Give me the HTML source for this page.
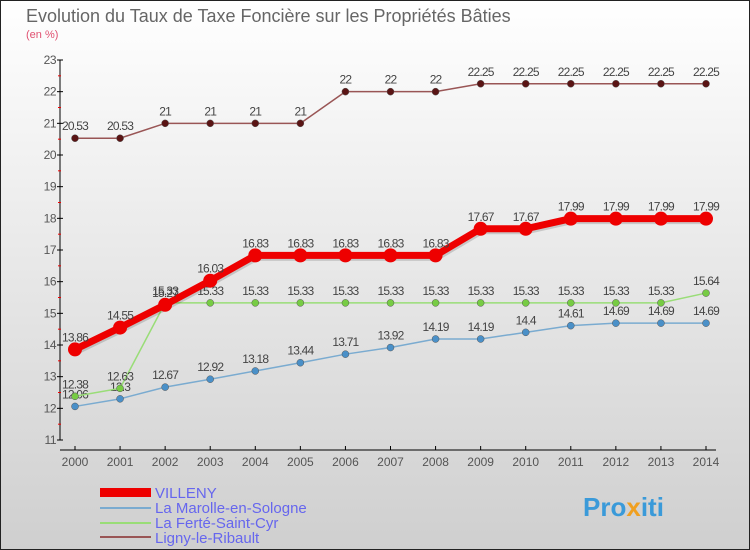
<!DOCTYPE html>
<html><head><meta charset="utf-8"><style>
body{margin:0;width:750px;height:550px;overflow:hidden;font-family:"Liberation Sans",sans-serif}
svg{display:block}
</style></head><body>
<svg id="c" width="750" height="550" xmlns="http://www.w3.org/2000/svg">
<defs><linearGradient id="bg" x1="0" y1="0" x2="0" y2="1"><stop offset="0" stop-color="#ffffff"/><stop offset="1" stop-color="#cfcfcf"/></linearGradient></defs>
<rect x="0.5" y="0.5" width="749" height="549" fill="url(#bg)" stroke="#222"/>
<text x="26" y="22" font-size="18" fill="#666">Evolution du Taux de Taxe Foncière sur les Propriétés Bâties</text>
<text x="26" y="38" font-size="11" fill="#e05070">(en %)</text>
<g id="axes"></g><g id="series"></g>
<g>
<rect x="100" y="488" width="51" height="9" fill="#e00"/>
<text x="155" y="498" font-size="15" fill="#6666ee">VILLENY</text>
<line x1="100" y1="508" x2="151" y2="508" stroke="#7aabd0" stroke-width="2"/>
<text x="155" y="513" font-size="15" fill="#6666ee">La Marolle-en-Sologne</text>
<line x1="100" y1="523" x2="151" y2="523" stroke="#99dd77" stroke-width="2"/>
<text x="155" y="528" font-size="15" fill="#6666ee">La Ferté-Saint-Cyr</text>
<line x1="100" y1="537" x2="151" y2="537" stroke="#995555" stroke-width="2"/>
<text x="155" y="543" font-size="15" fill="#6666ee">Ligny-le-Ribault</text>
</g>
<text x="583" y="516" font-size="26" font-weight="bold" fill="#3a9ad9">Pro<tspan fill="#f0a020">x</tspan>iti</text>
</svg>
<script>
const years=[2000,2001,2002,2003,2004,2005,2006,2007,2008,2009,2010,2011,2012,2013,2014];
const yTicks=[11,12,13,14,15,16,17,18,19,20,21,22,23];
const villeny=[13.86,14.55,15.27,16.03,16.83,16.83,16.83,16.83,16.83,17.67,17.67,17.99,17.99,17.99,17.99];
const marolle=[12.06,12.3,12.67,12.92,13.18,13.44,13.71,13.92,14.19,14.19,14.4,14.61,14.69,14.69,14.69];
const ferte=[12.38,12.63,15.33,15.33,15.33,15.33,15.33,15.33,15.33,15.33,15.33,15.33,15.33,15.33,15.64];
const ligny=[20.53,20.53,21,21,21,21,22,22,22,22.25,22.25,22.25,22.25,22.25,22.25];
const NS="http://www.w3.org/2000/svg";
const x=i=>75+i*(706-75)/(years.length-1);
const y=v=>60+(23-v)*(380/12);
function mk(t,a,p){const e=document.createElementNS(NS,t);for(const k in a)e.setAttribute(k,a[k]);p.appendChild(e);return e;}
const ax=document.getElementById('axes');
const yl=mk('line',{x1:60,y1:60,x2:60,y2:440,stroke:'#000'},ax);


yTicks.forEach(v=>{
 mk('line',{x1:57,y1:y(v),x2:63,y2:y(v),stroke:'#000'},ax);
 if(v<23) mk('line',{x1:58,y1:y(v+0.5),x2:61,y2:y(v+0.5),stroke:'#e00'},ax);
 const t=mk('text',{x:56,y:y(v)+4,'font-size':12,fill:'#555','text-anchor':'end','letter-spacing':'-0.5'},ax);
 t.textContent=v;
 
 
});
const xl=mk('line',{x1:60,y1:450,x2:716,y2:450,stroke:'#000'},ax);


years.forEach((yr,i)=>{
 mk('line',{x1:x(i),y1:446,x2:x(i),y2:450,stroke:'#000'},ax);
 const t=mk('text',{x:x(i),y:466,'font-size':12,fill:'#555','text-anchor':'middle'},ax);
 t.textContent=yr;
 
 
});
const sg=document.getElementById('series');
function series(d,name,col,fill,w,r){
 const g=mk('g',{},sg);
 
 
 if(r>4) mk('polyline',{points:d.map((v,i)=>(x(i)+1)+','+(y(v)+2)).join(' '),fill:'none',stroke:'rgba(0,0,0,0.15)','stroke-width':w},g);
 const pl=mk('polyline',{points:d.map((v,i)=>x(i)+','+y(v)).join(' '),fill:'none',stroke:col,'stroke-width':w},g);
 
 
 d.forEach((v,i)=>{
  const c=mk('circle',{cx:x(i),cy:y(v),r:r,fill:fill,stroke:r>4?'none':'#555','stroke-width':0.5},g);
  
  
  const t=mk('text',{x:x(i),y:y(v)-8,'font-size':12,fill:'#444','text-anchor':'middle','letter-spacing':'-0.8'},g);
  t.textContent=v;
  
  
 });
}
series(ligny,'ligny','#995555','#5a1414',1.5,3.5);
series(marolle,'marolle','#7aabd0','#4a90c8',1.5,3.5);
series(ferte,'ferte','#99dd77','#77cc44',1.5,3.5);
series(villeny,'villeny','#e00','#e00',7,7);
</script>
</body></html>
